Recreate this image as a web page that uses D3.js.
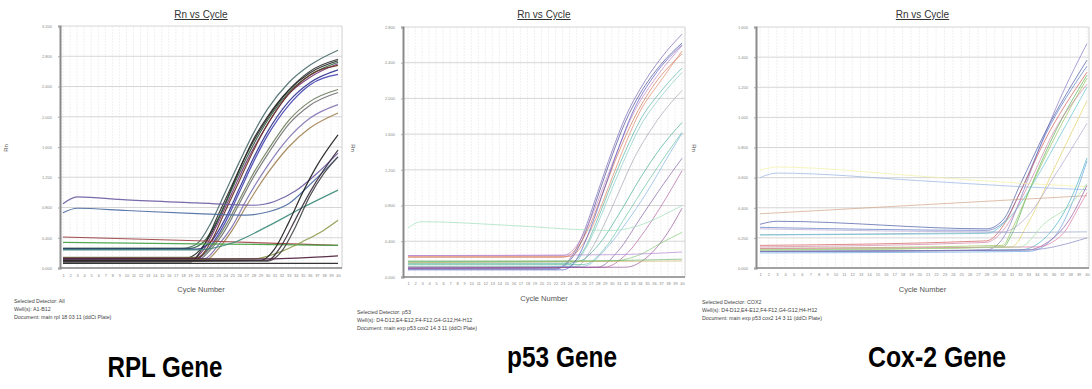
<!DOCTYPE html>
<html>
<head>
<meta charset="utf-8">
<script src="https://cdn.jsdelivr.net/npm/d3@7"></script>
<style>
  html, body { margin: 0; padding: 0; background: #fff; }
  svg { display: block; font-family: "Liberation Sans", Arial, sans-serif; }
  .tick text { fill: #888; }
  .gene { font-family: "Liberation Sans Narrow", "Liberation Sans", Arial, sans-serif; font-weight: bold; }
</style>
</head>
<body>
<svg id="chart" width="1092" height="389"></svg>
<script>
'use strict';

// cycle numbers on the x axis
var cycles = d3.range(1, 41);

// y tick values of each plot
var rplTicks = [0, 0.4, 0.8, 1.2, 1.6, 2.0, 2.4, 2.8, 3.2];
var p53Ticks = [0, 0.4, 0.8, 1.2, 1.6, 2.0, 2.4, 2.8];
var cox2Ticks = [0, 0.2, 0.4, 0.6, 0.8, 1.0, 1.2, 1.4, 1.6];

// amplification curves: [cycle, Rn] points
var rplCurves = [
  {color: '#4a6a6a', pts: [[1,0.26],[18,0.26],[20,0.32],[22,0.6],[24,1.0],[26,1.4],[28,1.78],[30,2.1],[33,2.45],[36,2.68],[40,2.88]]},
  {color: '#1e1e1e', pts: [[1,0.12],[18,0.12],[20,0.2],[22,0.45],[24,0.85],[26,1.3],[28,1.7],[30,2.0],[33,2.35],[36,2.58],[40,2.74]]},
  {color: '#2e5e3e', pts: [[1,0.26],[19,0.26],[21,0.35],[23,0.65],[25,1.05],[27,1.45],[30,1.95],[33,2.32],[36,2.55],[40,2.72]]},
  {color: '#7a3a7a', pts: [[1,0.1],[19,0.1],[21,0.25],[23,0.6],[25,1.0],[27,1.4],[30,1.9],[33,2.3],[36,2.52],[40,2.70]]},
  {color: '#303090', pts: [[1,0.25],[20,0.25],[22,0.35],[24,0.65],[26,1.05],[28,1.45],[30,1.8],[33,2.2],[36,2.45],[40,2.62]]},
  {color: '#4040b0', pts: [[1,0.12],[20,0.12],[22,0.3],[24,0.6],[26,1.0],[28,1.4],[30,1.75],[33,2.15],[36,2.42],[40,2.56]]},
  {color: '#6a7a5a', pts: [[1,0.14],[20,0.14],[22,0.28],[24,0.55],[26,0.9],[28,1.25],[30,1.55],[33,1.95],[36,2.2],[40,2.36]]},
  {color: '#707070', pts: [[1,0.1],[20,0.1],[22,0.25],[24,0.5],[26,0.85],[28,1.2],[30,1.5],[33,1.9],[36,2.15],[40,2.32]]},
  {color: '#8070b0', pts: [[1,0.12],[21,0.12],[23,0.3],[25,0.55],[27,0.9],[30,1.35],[33,1.72],[36,1.98],[40,2.16]]},
  {color: '#a08050', pts: [[1,0.09],[21,0.09],[23,0.25],[25,0.5],[27,0.82],[30,1.25],[33,1.6],[36,1.85],[40,2.05]]},
  {color: '#2a2a2a', pts: [[1,0.08],[19,0.08],[21,0.3],[23,0.7],[25,1.1],[27,1.5],[30,1.98],[33,2.35],[36,2.6],[40,2.76]]},
  {color: '#6a3020', pts: [[1,0.13],[20,0.13],[22,0.35],[24,0.75],[26,1.15],[28,1.55],[30,1.9],[33,2.3],[36,2.55],[40,2.68]]},
  {color: '#6a5aa0', pts: [[1,0.85],[3,0.94],[10,0.9],[20,0.86],[28,0.83],[31,0.88],[34,1.02],[37,1.25],[40,1.52]]},
  {color: '#4a6aa0', pts: [[1,0.73],[3,0.79],[10,0.76],[20,0.72],[27,0.70],[30,0.74],[33,0.85],[36,1.1],[40,1.47]]},
  {color: '#a04040', pts: [[1,0.41],[20,0.36],[40,0.30]]},
  {color: '#40a040', pts: [[1,0.34],[20,0.32],[40,0.30]]},
  {color: '#3a8a7a', pts: [[1,0.24],[20,0.24],[25,0.33],[30,0.55],[35,0.8],[40,1.03]]},
  {color: '#8a9a4a', pts: [[1,0.1],[28,0.12],[32,0.22],[35,0.35],[38,0.5],[40,0.63]]},
  {color: '#1a1a1a', pts: [[1,0.1],[29,0.1],[31,0.25],[33,0.6],[35,1.0],[37,1.35],[40,1.76]]},
  {color: '#3a2a3a', pts: [[1,0.09],[30,0.1],[32,0.3],[34,0.65],[36,1.0],[38,1.3],[40,1.56]]},
  {color: '#404040', pts: [[1,0.08],[30,0.09],[32,0.22],[34,0.55],[36,0.95],[38,1.25],[40,1.47]]},
  {color: '#4a1a3a', pts: [[1,0.12],[30,0.12],[40,0.16]]},
  {color: '#202020', pts: [[1,0.06],[40,0.06]]}
];

var p53Curves = [
  {color: '#7060b0', pts: [[1,0.1],[22,0.1],[24,0.2],[26,0.5],[28,0.95],[30,1.4],[32,1.8],[34,2.1],[37,2.45],[40,2.72]]},
  {color: '#404090', pts: [[1,0.09],[22,0.09],[24,0.18],[26,0.45],[28,0.9],[30,1.35],[32,1.75],[34,2.05],[37,2.38],[40,2.62]]},
  {color: '#c080c0', pts: [[1,0.24],[23,0.24],[25,0.35],[27,0.65],[29,1.05],[31,1.45],[33,1.82],[36,2.2],[40,2.59]]},
  {color: '#d07050', pts: [[1,0.22],[23,0.22],[25,0.32],[27,0.6],[29,1.0],[31,1.4],[33,1.75],[36,2.15],[40,2.50]]},
  {color: '#e08060', pts: [[1,0.23],[24,0.23],[26,0.38],[28,0.7],[30,1.1],[32,1.5],[34,1.85],[37,2.2],[40,2.53]]},
  {color: '#50b0a0', pts: [[1,0.15],[24,0.15],[26,0.3],[28,0.65],[30,1.05],[32,1.42],[34,1.75],[37,2.08],[40,2.34]]},
  {color: '#80c8c0', pts: [[1,0.12],[24,0.12],[26,0.28],[28,0.6],[30,0.98],[32,1.35],[34,1.68],[37,2.02],[40,2.29]]},
  {color: '#a0a0b0', pts: [[1,0.12],[25,0.12],[27,0.3],[29,0.6],[31,0.95],[33,1.3],[36,1.7],[40,2.09]]},
  {color: '#40a890', pts: [[1,0.17],[25,0.17],[28,0.35],[31,0.7],[34,1.1],[37,1.45],[40,1.73]]},
  {color: '#60c0a0', pts: [[1,0.14],[26,0.14],[29,0.32],[32,0.68],[35,1.05],[38,1.4],[40,1.62]]},
  {color: '#80b0e0', pts: [[1,0.1],[26,0.12],[29,0.3],[32,0.6],[35,0.95],[38,1.35],[40,1.61]]},
  {color: '#8060a0', pts: [[1,0.1],[28,0.11],[31,0.3],[34,0.65],[37,1.0],[40,1.33]]},
  {color: '#b060a0', pts: [[1,0.1],[29,0.11],[32,0.25],[35,0.55],[38,0.92],[40,1.19]]},
  {color: '#9adcb8', pts: [[1,0.55],[3,0.62],[15,0.58],[30,0.52],[34,0.58],[37,0.68],[40,0.80]]},
  {color: '#905090', pts: [[1,0.1],[32,0.11],[35,0.22],[38,0.5],[40,0.77]]},
  {color: '#80c870', pts: [[1,0.17],[30,0.18],[34,0.25],[37,0.38],[40,0.50]]},
  {color: '#b080d0', pts: [[1,0.24],[30,0.25],[40,0.28]]},
  {color: '#c8b060', pts: [[1,0.16],[40,0.18]]},
  {color: '#70b070', pts: [[1,0.18],[24,0.18],[40,0.2]]},
  {color: '#5050c0', pts: [[1,0.08],[23,0.08],[25,0.2],[27,0.55],[29,1.0],[31,1.45],[33,1.85],[36,2.25],[40,2.6]]}
];

var cox2Curves = [
  {color: '#8070c0', pts: [[1,0.11],[28,0.12],[30,0.2],[32,0.45],[34,0.75],[37,1.15],[40,1.49]]},
  {color: '#4050a0', pts: [[1,0.29],[3,0.31],[28,0.26],[30,0.32],[32,0.55],[35,0.9],[40,1.38]]},
  {color: '#5070c0', pts: [[1,0.27],[28,0.25],[30,0.3],[32,0.5],[35,0.88],[40,1.34]]},
  {color: '#50b050', pts: [[1,0.12],[30,0.14],[31,0.22],[33,0.5],[36,0.88],[40,1.28]]},
  {color: '#90c050', pts: [[1,0.13],[30,0.15],[31,0.25],[33,0.5],[36,0.85],[40,1.26]]},
  {color: '#d05050', pts: [[1,0.15],[28,0.18],[30,0.28],[32,0.5],[35,0.85],[40,1.30]]},
  {color: '#d080a0', pts: [[1,0.14],[28,0.17],[30,0.25],[33,0.55],[36,0.9],[40,1.22]]},
  {color: '#e0d060', pts: [[1,0.12],[31,0.14],[33,0.3],[36,0.65],[40,1.11]]},
  {color: '#90b0e0', pts: [[1,0.60],[3,0.63],[20,0.58],[32,0.54],[40,0.52]]},
  {color: '#f0f0a0', pts: [[1,0.65],[3,0.67],[20,0.61],[30,0.57],[40,0.54]]},
  {color: '#d0a080', pts: [[1,0.36],[40,0.48]]},
  {color: '#40b0c0', pts: [[1,0.11],[32,0.12],[35,0.2],[38,0.45],[40,0.73]]},
  {color: '#60a0e0', pts: [[1,0.1],[33,0.11],[36,0.2],[38,0.4],[40,0.71]]},
  {color: '#9050a0', pts: [[1,0.11],[33,0.12],[35,0.16],[38,0.33],[40,0.55]]},
  {color: '#e070a0', pts: [[1,0.13],[34,0.14],[37,0.22],[39,0.4],[40,0.50]]},
  {color: '#90a0c0', pts: [[1,0.22],[40,0.24]]},
  {color: '#8080c0', pts: [[1,0.11],[33,0.12],[40,0.20]]},
  {color: '#b0a0d0', pts: [[1,0.26],[30,0.24],[33,0.35],[36,0.6],[40,0.96]]},
  {color: '#60c0d0', pts: [[1,0.22],[28,0.23],[31,0.35],[34,0.6],[37,0.9],[40,1.2]]},
  {color: '#a0e0a0', pts: [[1,0.12],[32,0.14],[35,0.3],[38,0.42],[40,0.56]]}
];

// footer lines under each plot
var rplInfo = ['Selected Detector: All', 'Well(s): A1-B12', 'Document: main rpl 18 03 11 (ddCt Plate)'];
var p53Info = ['Selected Detector: p53', 'Well(s): D4-D12,E4-E12,F4-F12,G4-G12,H4-H12', 'Document: main exp p53 cox2 14 3 11 (ddCt Plate)'];
var cox2Info = ['Selected Detector: COX2', 'Well(s): D4-D12,E4-E12,F4-F12,G4-G12,H4-H12', 'Document: main exp p53 cox2 14 3 11 (ddCt Plate)'];

var geneNames = ['RPL Gene', 'p53 Gene', 'Cox-2 Gene'];

////////////////////////////////////////////////////////////////////////////////////
// layout of the three plots
var panels = [
  {curves: rplCurves, ticks: rplTicks, info: rplInfo, gene: geneNames[0],
   left: 60, right: 342, top: 26, bottom: 268, x0: 63, x1: 338, lw: 1.2, op: 0.9,
   rnX: 8, rnRot: -90, infoX: 14, infoY: 303, cycleY: 292, xlabY: 277,
   geneX: 165, geneY: 377, geneW: 115},
  {curves: p53Curves, ticks: p53Ticks, info: p53Info, gene: geneNames[1],
   left: 403, right: 685, top: 27, bottom: 277, x0: 408, x1: 682, lw: 0.9, op: 0.75,
   rnX: 351, rnRot: 90, infoX: 357, infoY: 314, cycleY: 301, xlabY: 285,
   geneX: 562, geneY: 367, geneW: 110},
  {curves: cox2Curves, ticks: cox2Ticks, info: cox2Info, gene: geneNames[2],
   left: 756, right: 1089, top: 27, bottom: 268, x0: 760, x1: 1087, lw: 0.9, op: 0.75,
   rnX: 692, rnRot: 90, infoX: 702, infoY: 304, cycleY: 292, xlabY: 276,
   geneX: 937, geneY: 367, geneW: 138}
];

var svg = d3.select('#chart');

panels.forEach(function (p) {
  var g = svg.append('g');
  var x = d3.scaleLinear().domain([1, 40]).range([p.x0, p.x1]);
  var y = d3.scaleLinear().domain([0, d3.max(p.ticks)]).range([p.bottom, p.top]);
  var cx = (p.left + p.right) / 2;

  // vertical grid, one per cycle
  g.selectAll('.vgrid').data(cycles).enter().append('line')
    .attr('x1', function (d) { return x(d); }).attr('x2', function (d) { return x(d); })
    .attr('y1', p.top).attr('y2', p.bottom)
    .style('stroke', '#ececec').style('stroke-width', 0.8).style('stroke-dasharray', '2,1');

  // horizontal grid
  g.selectAll('.hgrid').data(p.ticks).enter().append('line')
    .attr('x1', p.left).attr('x2', p.right)
    .attr('y1', function (d) { return y(d); }).attr('y2', function (d) { return y(d); })
    .style('stroke', '#d6d6d6').style('stroke-width', 1);

  // right frame
  g.append('line').attr('x1', p.right).attr('x2', p.right).attr('y1', p.top).attr('y2', p.bottom)
    .style('stroke', '#d0d0d0');

  // curves
  var line = d3.line()
    .x(function (d) { return x(d[0]); })
    .y(function (d) { return y(d[1]); })
    .curve(d3.curveMonotoneX);
  g.selectAll('.curve').data(p.curves).enter().append('path')
    .attr('d', function (d) { return line(d.pts); })
    .style('fill', 'none')
    .style('stroke', function (d) { return d.color; })
    .style('stroke-opacity', p.op)
    .style('stroke-width', p.lw);

  // y axis
  var yAxis = d3.axisLeft(y).tickValues(p.ticks).tickFormat(d3.format('.3f')).tickSize(2).tickPadding(6);
  var ya = g.append('g').attr('transform', 'translate(' + p.left + ',0)').call(yAxis);
  ya.select('.domain').style('stroke', '#8a8a8a').style('stroke-width', 2);
  ya.selectAll('.tick line').style('stroke', '#aaa');
  ya.selectAll('.tick text').style('font-size', '4px');

  // x axis
  var xAxis = d3.axisBottom(x).tickValues(cycles).tickSize(0).tickPadding(0);
  var xa = g.append('g').attr('transform', 'translate(0,' + p.bottom + ')').call(xAxis);
  xa.select('.domain').attr('d', 'M' + p.left + ',0H' + p.right).style('stroke', '#8a8a8a').style('stroke-width', 1.5);
  xa.selectAll('.tick text').attr('dy', null).attr('y', p.xlabY - p.bottom).style('font-size', '4px');

  // title
  g.append('text').attr('x', cx).attr('y', 18).attr('text-anchor', 'middle')
    .style('font-size', '10px').style('fill', '#333').style('text-decoration', 'underline')
    .text('Rn vs Cycle');

  // Rn label
  g.append('text').attr('transform', 'translate(' + p.rnX + ',148) rotate(' + p.rnRot + ')')
    .attr('text-anchor', 'middle').style('font-size', '6px').style('fill', '#555').text('Rn');

  // x label
  g.append('text').attr('x', cx).attr('y', p.cycleY).attr('text-anchor', 'middle')
    .style('font-size', '7.5px').style('fill', '#555').text('Cycle Number');

  // footer
  g.selectAll('.info').data(p.info).enter().append('text')
    .attr('x', p.infoX).attr('y', function (d, i) { return p.infoY + i * 8; })
    .style('font-size', '5.3px').style('fill', '#444').text(function (d) { return d; });

  // gene caption
  g.append('text').attr('class', 'gene').attr('x', p.geneX).attr('y', p.geneY).attr('text-anchor', 'middle')
    .attr('textLength', p.geneW).attr('lengthAdjust', 'spacingAndGlyphs')
    .style('font-size', '30px').style('fill', '#000').text(p.gene);
});
</script>
</body>
</html>
